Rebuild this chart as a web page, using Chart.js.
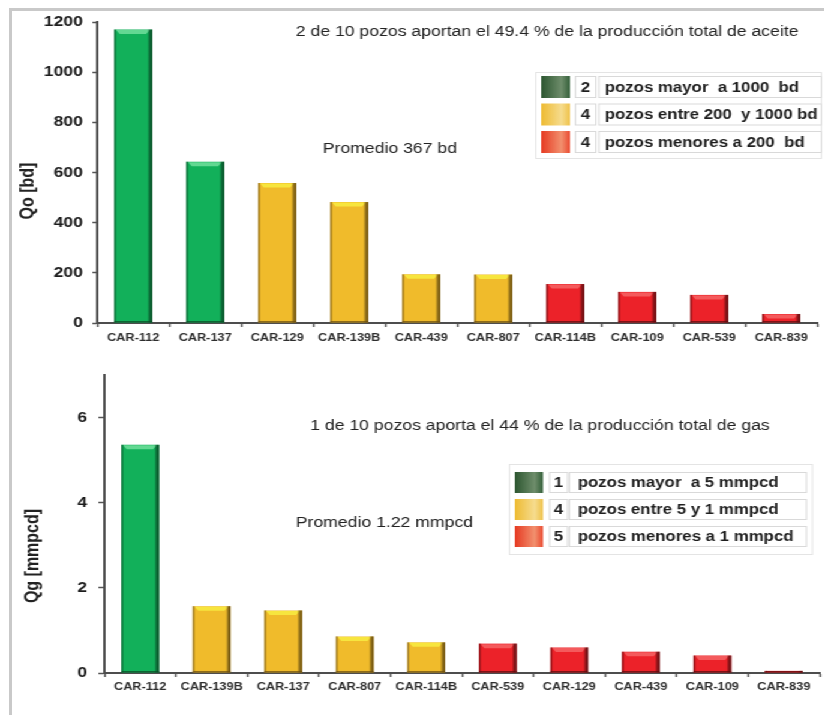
<!DOCTYPE html>
<html>
<head>
<meta charset="utf-8">
<title>Producción por pozo</title>
<script src="https://cdn.jsdelivr.net/npm/chart.js@4.4.1/dist/chart.umd.min.js"></script>
<style>
  html, body { margin: 0; padding: 0; background: #fff; overflow: hidden; width: 824px; height: 715px; }
  #frame { position: absolute; left: 9px; top: 8px; width: 840px; height: 730px;
           border-left: 3px solid #c9c9c9; border-top: 3px solid #c9c9c9; }
  /* the whole drawing is widened horizontally by 1.2 */
  #stage { position: absolute; left: 0; top: 0; width: 687px; height: 715px;
           transform: scaleX(1.2); transform-origin: 0 0; }
  #stage canvas { position: absolute; left: 0; }
  #cOil { top: 0; }
  #cGas { top: 355px; }
</style>
</head>
<body>
<div id="frame"></div>
<div id="stage">
  <canvas id="cOil" width="687" height="355"></canvas>
  <canvas id="cGas" width="687" height="360"></canvas>
</div>
<script>
// ---- Aceite (Qo, bd) ----
const oilWells = ['CAR-112', 'CAR-137', 'CAR-129', 'CAR-139B', 'CAR-439', 'CAR-807', 'CAR-114B', 'CAR-109', 'CAR-539', 'CAR-839'];
const oilRates = [1170, 643, 558, 482, 194, 193, 155, 124, 112, 36];
const oilClass = ['alto', 'alto', 'medio', 'medio', 'medio', 'medio', 'bajo', 'bajo', 'bajo', 'bajo'];
const oilAxis = { min: 0, max: 1200, step: 200, lastLabel: 1200 };
const oilLegendText = {
  alto: 'pozos mayor  a 1000  bd',
  medio: 'pozos entre 200  y 1000 bd',
  bajo: 'pozos menores a 200  bd'
};

// ---- Gas (Qg, mmpcd) ----
const gasWells = ['CAR-112', 'CAR-139B', 'CAR-137', 'CAR-807', 'CAR-114B', 'CAR-539', 'CAR-129', 'CAR-439', 'CAR-109', 'CAR-839'];
const gasRates = [5.36, 1.57, 1.47, 0.86, 0.72, 0.69, 0.60, 0.50, 0.41, 0.05];
const gasClass = ['alto', 'medio', 'medio', 'medio', 'medio', 'bajo', 'bajo', 'bajo', 'bajo', 'bajo'];
const gasAxis = { min: 0, max: 7, step: 2, lastLabel: 6 };
const gasLegendText = {
  alto: 'pozos mayor  a 5 mmpcd',
  medio: 'pozos entre 5 y 1 mmpcd',
  bajo: 'pozos menores a 1 mmpcd'
};

const classOrder = ['alto', 'medio', 'bajo'];
const palette = {
  alto:  { fill: '#12b05a', light: '#62d892', edge: '#0a4d26', swatch: ['#2c5630', '#6e8d6b', '#34603a'] },
  medio: { fill: '#f0bb2b', light: '#f7e53e', edge: '#6d5010', swatch: ['#eebb32', '#f6dc8e', '#efc24a'] },
  bajo:  { fill: '#ec2229', light: '#f45a5c', edge: '#5e0c0f', swatch: ['#e63a22', '#f2906e', '#ea4a30'] }
};

const SANS = '"Liberation Sans", Arial, Helvetica, sans-serif';
const NARROW = '"Liberation Sans Narrow", "Arial Narrow", "Liberation Sans", Arial, sans-serif';

const sum = a => a.reduce((s, v) => s + v, 0);
const countOf = (classes, c) => classes.filter(k => k === c).length;

// 3D-looking bevel over each bar, using the bar elements' own geometry
function drawBevel(chart, classes) {
  const ctx = chart.ctx;
  const meta = chart.getDatasetMeta(0);
  meta.data.forEach((bar, i) => {
    const p = bar.getProps(['x', 'y', 'base', 'width'], true);
    const l = p.x - p.width / 2, r = p.x + p.width / 2;
    const t = Math.min(p.y, p.base), b = Math.max(p.y, p.base);
    const h = b - t;
    const c = palette[classes[i]];
    ctx.save();
    if (h > 7) {
      ctx.fillStyle = c.light;
      ctx.beginPath();
      ctx.moveTo(l + 1.5, t + 0.5);
      ctx.lineTo(r - 2, t + 0.5);
      ctx.lineTo(r - 5, t + 4.5);
      ctx.lineTo(l + 4.5, t + 4.5);
      ctx.closePath();
      ctx.fill();
    }
    const g = ctx.createLinearGradient(r - 4, 0, r, 0);
    g.addColorStop(0, 'rgba(0,0,0,0)');
    g.addColorStop(1, c.edge);
    ctx.fillStyle = g;
    ctx.fillRect(r - 4, t, 4, h);
    ctx.fillStyle = c.edge;
    ctx.globalAlpha = 0.6;
    ctx.fillRect(l, t, 1.5, h);
    ctx.globalAlpha = 0.75;
    ctx.fillRect(l, b - 1.5, r - l, 1.5);
    ctx.restore();
  });
}

function drawLegend(ctx, L, classes, texts) {
  ctx.save();
  ctx.fillStyle = '#fff';
  ctx.strokeStyle = '#e4e4e4';
  ctx.lineWidth = 1;
  ctx.fillRect(L.x, L.y, L.w, L.h);
  ctx.strokeRect(L.x + 0.5, L.y + 0.5, L.w - 1, L.h - 1);
  classOrder.forEach((c, i) => {
    const ry = L.rows[i];
    const g = ctx.createLinearGradient(L.swX, 0, L.swX + L.swW, 0);
    g.addColorStop(0, palette[c].swatch[0]);
    g.addColorStop(0.7, palette[c].swatch[1]);
    g.addColorStop(1, palette[c].swatch[2]);
    ctx.fillStyle = g;
    ctx.fillRect(L.swX, ry, L.swW, L.rowH);
    ctx.strokeStyle = '#d9d9d9';
    ctx.strokeRect(L.numX + 0.5, ry + 0.5, L.numW, L.rowH - 1);
    ctx.strokeRect(L.txtX + 0.5, ry + 0.5, L.txtW - 1, L.rowH - 1);
    ctx.fillStyle = '#1e1e1e';
    ctx.font = 'bold 14px ' + SANS;
    ctx.textBaseline = 'middle';
    ctx.textAlign = 'center';
    ctx.fillText(String(countOf(classes, c)), L.numX + L.numW / 2 + 0.5, ry + L.rowH / 2 + 1);
    ctx.textAlign = 'left';
    ctx.fillText(texts[c], L.textX, ry + L.rowH / 2 + 1);
  });
  ctx.restore();
}

function decoPlugin(cfg) {
  return {
    id: 'deco',
    afterDatasetsDraw(chart) { drawBevel(chart, cfg.classes); },
    afterDraw(chart) {
      const ctx = chart.ctx;
      ctx.save();
      ctx.fillStyle = '#222';
      ctx.font = '14.7px ' + SANS;
      ctx.textBaseline = 'alphabetic';
      ctx.textAlign = 'left';
      ctx.fillText(cfg.headline, cfg.headPos[0], cfg.headPos[1]);
      ctx.fillText(cfg.average, cfg.avgPos[0], cfg.avgPos[1]);
      ctx.translate(cfg.yTitlePos[0], cfg.yTitlePos[1]);
      ctx.rotate(-Math.PI / 2);
      ctx.font = 'bold 16px ' + SANS;
      ctx.textAlign = 'center';
      ctx.textBaseline = 'middle';
      ctx.fillText(cfg.yTitle, 0, 0);
      ctx.restore();
      drawLegend(ctx, cfg.legend, cfg.classes, cfg.legendText);
    }
  };
}

function makeChart(id, labels, values, classes, axis, geom, deco) {
  return new Chart(document.getElementById(id), {
    type: 'bar',
    data: {
      labels: labels,
      datasets: [{
        data: values,
        backgroundColor: classes.map(c => palette[c].fill),
        borderWidth: 0,
        barPercentage: 0.66,
        categoryPercentage: 0.8
      }]
    },
    options: {
      responsive: false,
      animation: false,
      devicePixelRatio: 1,
      layout: { padding: { left: 0, right: geom.padRight, top: geom.padTop, bottom: 0 } },
      plugins: { legend: { display: false }, tooltip: { enabled: false }, title: { display: false } },
      scales: {
        x: {
          grid: { display: true, drawOnChartArea: false, drawTicks: true, tickLength: 4,
                  tickColor: '#555', tickWidth: 1.5, offset: true },
          border: { display: true, color: '#4d4d4d', width: 2 },
          ticks: { autoSkip: false, maxRotation: 0, minRotation: 0, padding: geom.xPad, color: '#2e2e2e',
                   font: { family: NARROW, weight: 'bold', size: 10.6 } },
          afterFit(s) { s.height = geom.xHeight; }
        },
        y: {
          min: axis.min, max: axis.max,
          ticks: { stepSize: axis.step, padding: geom.yPad, color: '#1c1c1c',
                   callback: v => String(v),
                   font: { family: SANS, weight: 'bold', size: 14.6 } },
          grid: { display: true, drawOnChartArea: false, drawTicks: true, tickLength: geom.yTick,
                  tickColor: '#555', tickWidth: 1.5 },
          border: { display: true, color: '#4d4d4d', width: 2 },
          afterBuildTicks(s) { s.ticks = s.ticks.filter(t => t.value <= axis.lastLabel); },
          afterFit(s) { s.width = geom.yWidth; }
        }
      }
    },
    plugins: [decoPlugin(deco)]
  });
}

// headline figures derived from the series
const oilTotal = sum(oilRates);
const oilTopShare = (sum(oilRates.filter((v, i) => oilClass[i] === 'alto')) / oilTotal * 100).toFixed(1);
const oilAvg = Math.round(oilTotal / oilRates.length);
const gasTotal = sum(gasRates);
const gasTopShare = Math.round(sum(gasRates.filter((v, i) => gasClass[i] === 'alto')) / gasTotal * 100);
const gasAvg = (gasTotal / gasRates.length).toFixed(2);

makeChart('cOil', oilWells, oilRates, oilClass, oilAxis,
  { padRight: 6, padTop: 22, xHeight: 32, xPad: 5, yWidth: 81, yPad: 8, yTick: 4 },
  {
    classes: oilClass,
    headline: countOf(oilClass, 'alto') + ' de ' + oilRates.length + ' pozos aportan el ' + oilTopShare + ' % de la producción total de aceite',
    headPos: [246.5, 36],
    average: 'Promedio ' + oilAvg + ' bd',
    avgPos: [269, 153],
    yTitle: 'Qo [bd]',
    yTitlePos: [24, 191],
    legendText: oilLegendText,
    legend: { x: 446, y: 72, w: 239, h: 87, swX: 451, swW: 24, rows: [76, 103.5, 131], rowH: 22,
              numX: 479, numW: 17, txtX: 498.5, txtW: 186.5, textX: 504 }
  });

makeChart('cGas', gasWells, gasRates, gasClass, gasAxis,
  { padRight: 4, padTop: 20, xHeight: 42, xPad: 4, yWidth: 87, yPad: 9.5, yTick: 5 },
  {
    classes: gasClass,
    headline: countOf(gasClass, 'alto') + ' de ' + gasRates.length + ' pozos aporta el ' + gasTopShare + ' % de la producción total de gas',
    headPos: [258.5, 75],
    average: 'Promedio ' + gasAvg + ' mmpcd',
    avgPos: [246.5, 172],
    yTitle: 'Qg [mmpcd]',
    yTitlePos: [28, 201],
    legendText: gasLegendText,
    legend: { x: 424, y: 109, w: 253.5, h: 91, swX: 429, swW: 23.5, rows: [117, 144, 171], rowH: 21,
              numX: 457.5, numW: 15, txtX: 474, txtW: 198.5, textX: 481.5 }
  });
</script>
</body>
</html>
